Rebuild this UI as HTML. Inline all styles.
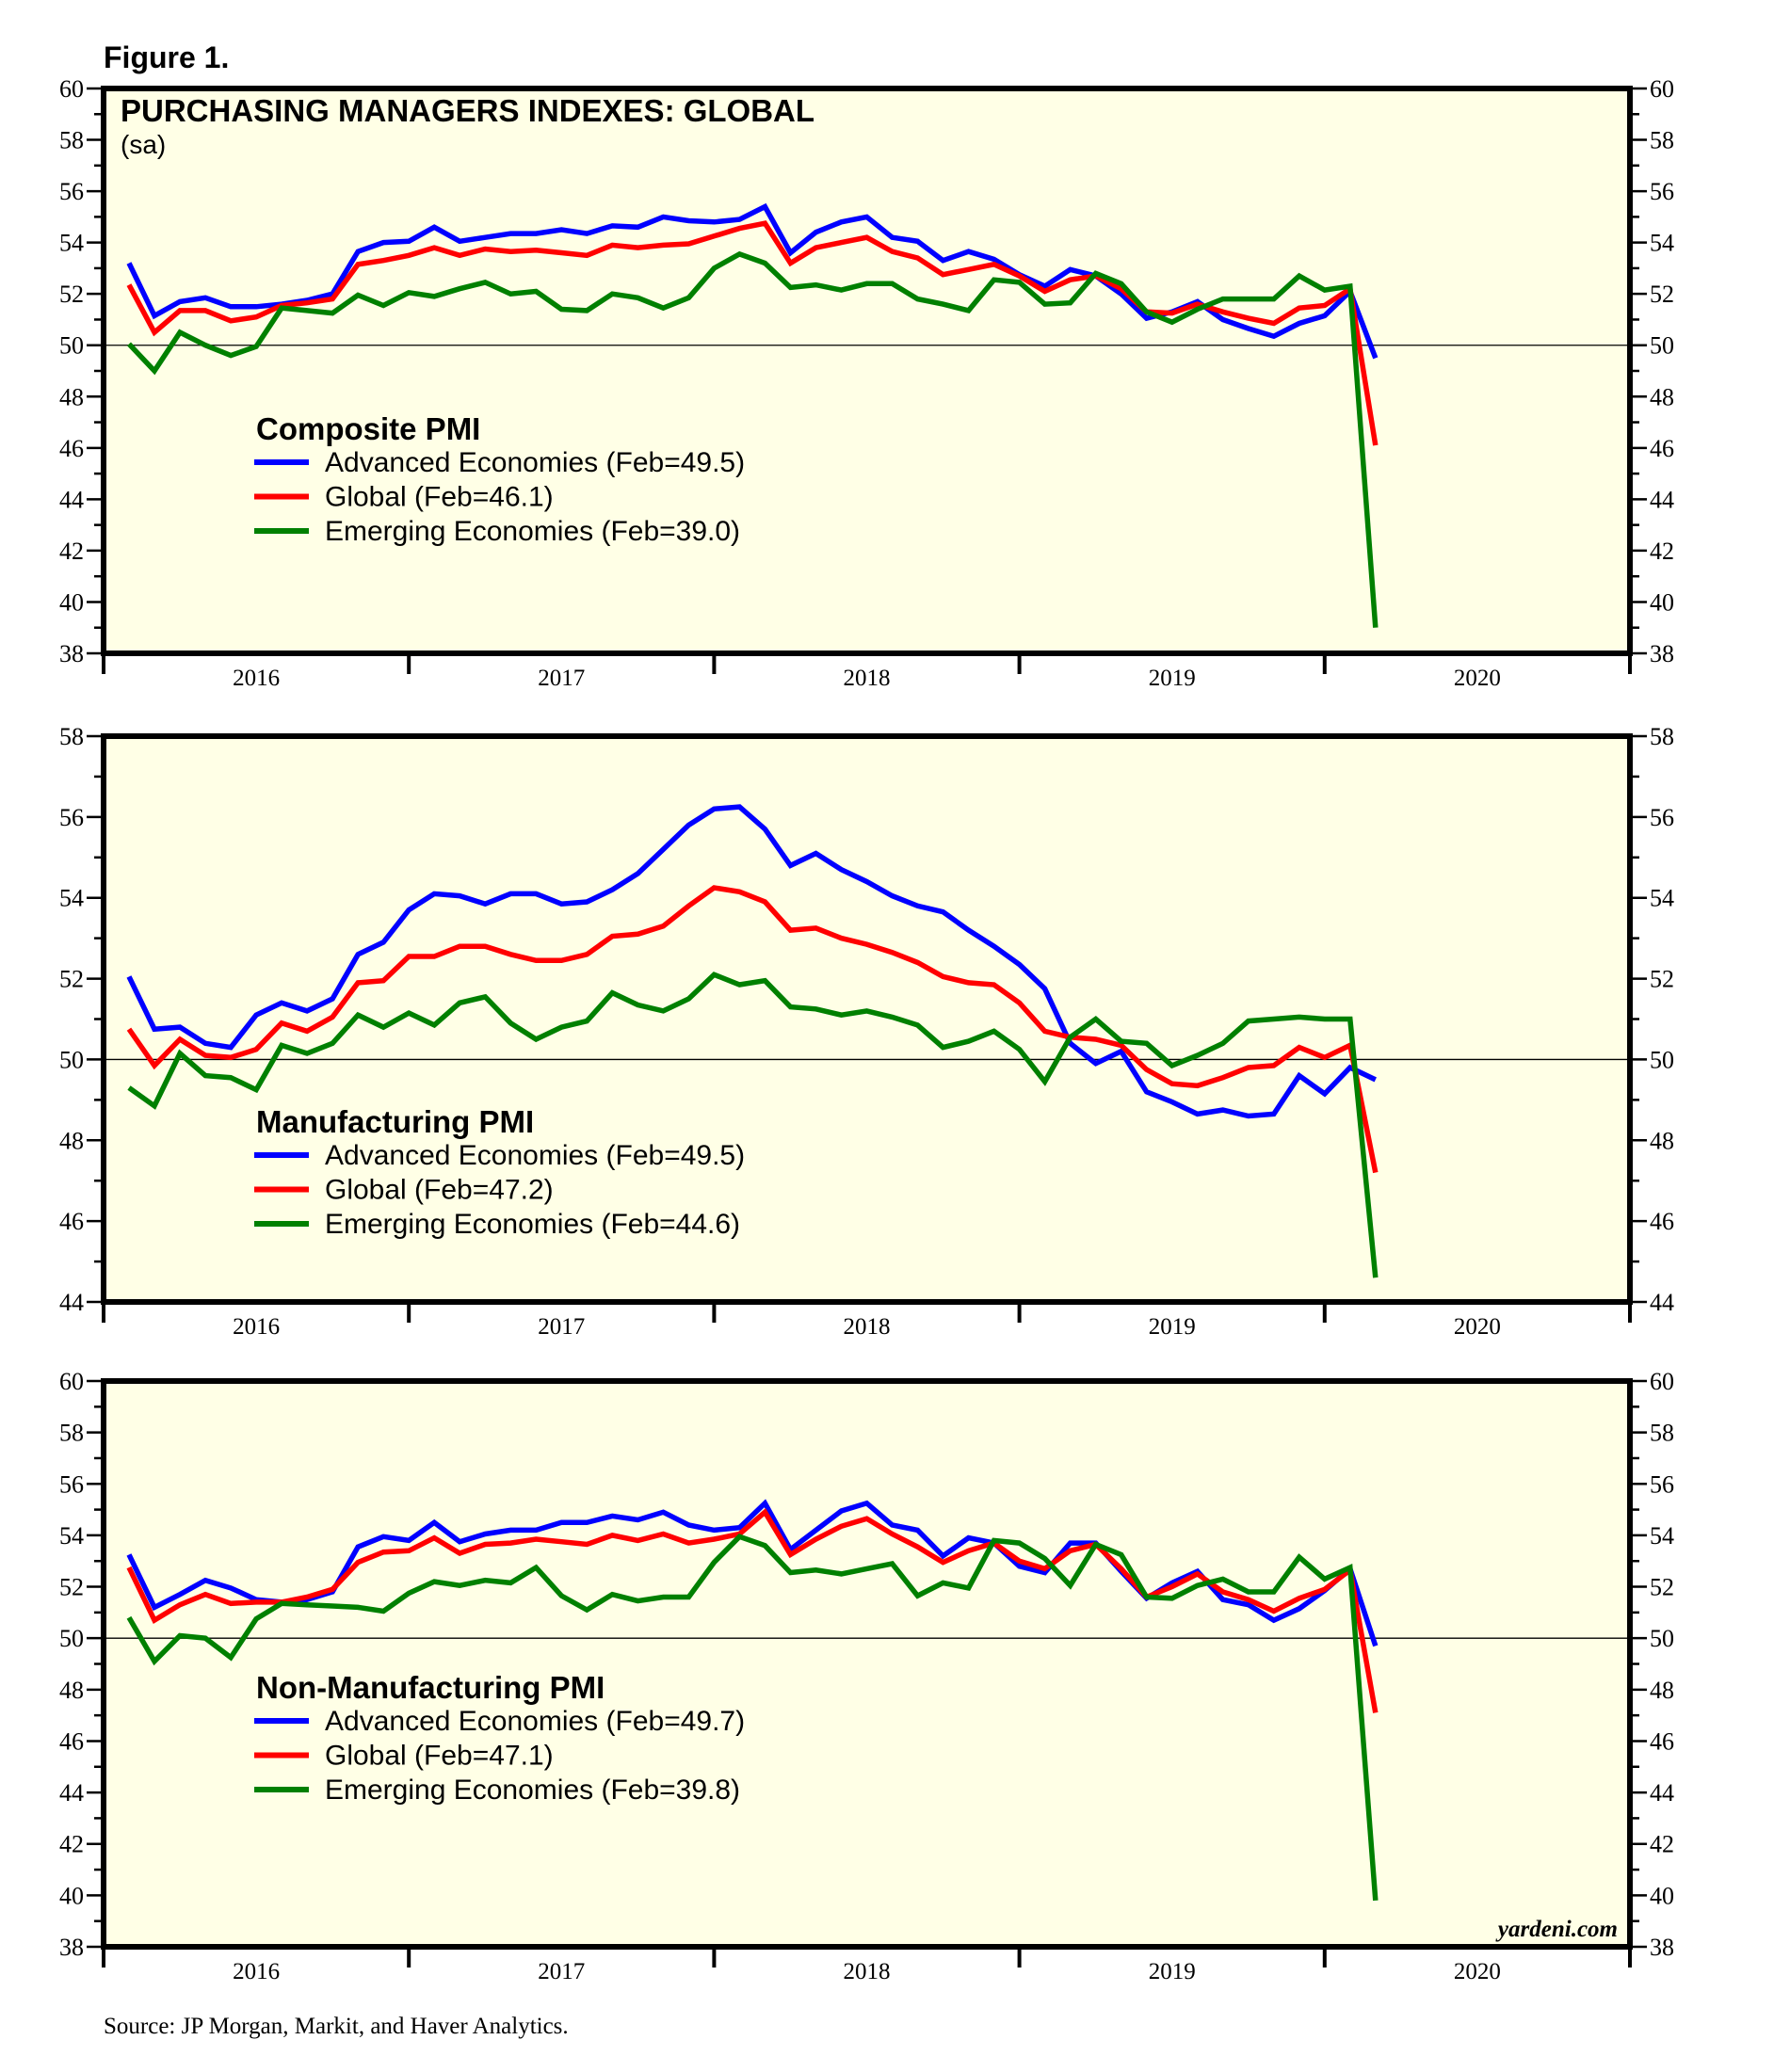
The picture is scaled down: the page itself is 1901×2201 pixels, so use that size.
<!DOCTYPE html>
<html><head><meta charset="utf-8"><style>
html,body{margin:0;padding:0;background:#fff;}
svg{display:block;}
</style></head><body>
<svg id="chart" width="1901" height="2201" viewBox="0 0 1901 2201" xmlns="http://www.w3.org/2000/svg">
<text x="110" y="72" font-family="Liberation Sans, sans-serif" font-weight="bold" font-size="32">Figure 1.</text>
<text x="110" y="2160" font-family="Liberation Serif, serif" font-size="25">Source: JP Morgan, Markit, and Haver Analytics.</text>
</svg>
<script>
const years = ["2016","2017","2018","2019","2020"];
const compAdv = [53.2,51.15,51.7,51.85,51.5,51.5,51.6,51.75,52.0,53.65,54.0,54.05,54.6,54.05,54.2,54.35,54.35,54.5,54.35,54.65,54.6,55.0,54.85,54.8,54.9,55.4,53.6,54.4,54.8,55.0,54.2,54.05,53.3,53.65,53.35,52.75,52.3,52.95,52.7,52.0,51.05,51.3,51.7,51.0,50.65,50.35,50.85,51.15,52.1,49.5];
const compGlb = [52.35,50.5,51.35,51.35,50.95,51.1,51.55,51.65,51.8,53.15,53.3,53.5,53.8,53.5,53.75,53.65,53.7,53.6,53.5,53.9,53.8,53.9,53.95,54.25,54.55,54.75,53.2,53.8,54.0,54.2,53.65,53.4,52.75,52.95,53.15,52.7,52.1,52.55,52.7,52.2,51.3,51.25,51.6,51.3,51.05,50.85,51.45,51.55,52.2,46.1];
const compEme = [50.05,49.0,50.5,50.0,49.6,49.95,51.45,51.35,51.25,51.95,51.55,52.05,51.9,52.2,52.45,52.0,52.1,51.4,51.35,52.0,51.85,51.45,51.85,53.0,53.55,53.2,52.25,52.35,52.15,52.4,52.4,51.8,51.6,51.35,52.55,52.45,51.6,51.65,52.8,52.4,51.3,50.9,51.4,51.8,51.8,51.8,52.7,52.15,52.3,39.0];
const mfgAdv = [52.05,50.75,50.8,50.4,50.3,51.1,51.4,51.2,51.5,52.6,52.9,53.7,54.1,54.05,53.85,54.1,54.1,53.85,53.9,54.2,54.6,55.2,55.8,56.2,56.25,55.7,54.8,55.1,54.7,54.4,54.05,53.8,53.65,53.2,52.8,52.35,51.75,50.4,49.9,50.2,49.2,48.95,48.65,48.75,48.6,48.65,49.6,49.15,49.8,49.5];
const mfgGlb = [50.75,49.85,50.5,50.1,50.05,50.25,50.9,50.7,51.05,51.9,51.95,52.55,52.55,52.8,52.8,52.6,52.45,52.45,52.6,53.05,53.1,53.3,53.8,54.25,54.15,53.9,53.2,53.25,53.0,52.85,52.65,52.4,52.05,51.9,51.85,51.4,50.7,50.55,50.5,50.35,49.75,49.4,49.35,49.55,49.8,49.85,50.3,50.05,50.35,47.2];
const mfgEme = [49.3,48.85,50.15,49.6,49.55,49.25,50.35,50.15,50.4,51.1,50.8,51.15,50.85,51.4,51.55,50.9,50.5,50.8,50.95,51.65,51.35,51.2,51.5,52.1,51.85,51.95,51.3,51.25,51.1,51.2,51.05,50.85,50.3,50.45,50.7,50.25,49.45,50.55,51.0,50.45,50.4,49.85,50.1,50.4,50.95,51.0,51.05,51.0,51.0,44.6];
const nonAdv = [53.25,51.2,51.7,52.25,51.95,51.5,51.4,51.5,51.8,53.55,53.95,53.8,54.5,53.75,54.05,54.2,54.2,54.5,54.5,54.75,54.6,54.9,54.4,54.2,54.3,55.25,53.45,54.2,54.95,55.25,54.4,54.2,53.2,53.9,53.7,52.8,52.55,53.7,53.7,52.6,51.55,52.15,52.6,51.5,51.3,50.7,51.15,51.85,52.7,49.7];
const nonGlb = [52.75,50.7,51.3,51.7,51.35,51.4,51.4,51.6,51.9,52.95,53.35,53.4,53.9,53.3,53.65,53.7,53.85,53.75,53.65,54.0,53.8,54.05,53.7,53.85,54.05,54.9,53.25,53.85,54.35,54.65,54.05,53.55,52.95,53.4,53.7,53.0,52.7,53.4,53.65,52.7,51.6,52.0,52.5,51.8,51.5,51.05,51.55,51.9,52.65,47.1];
const nonEme = [50.8,49.1,50.1,50.0,49.25,50.75,51.35,51.3,51.25,51.2,51.05,51.75,52.2,52.05,52.25,52.15,52.75,51.65,51.1,51.7,51.45,51.6,51.6,52.95,53.95,53.6,52.55,52.65,52.5,52.7,52.9,51.65,52.15,51.95,53.8,53.7,53.1,52.05,53.65,53.25,51.6,51.55,52.05,52.3,51.8,51.8,53.15,52.3,52.75,39.8];
const legendAdv = ["Advanced Economies (Feb=49.5)","Advanced Economies (Feb=49.5)","Advanced Economies (Feb=49.7)"];
const legendGlb = ["Global (Feb=46.1)","Global (Feb=47.2)","Global (Feb=47.1)"];
const legendEme = ["Emerging Economies (Feb=39.0)","Emerging Economies (Feb=44.6)","Emerging Economies (Feb=39.8)"];
const panelTitles = ["Composite PMI","Manufacturing PMI","Non-Manufacturing PMI"];

const svg = document.getElementById('chart');
const NS = 'http://www.w3.org/2000/svg';
function mk(tag, attrs, parent){ const e=document.createElementNS(NS,tag); for(const k in attrs) e.setAttribute(k,attrs[k]); (parent||svg).appendChild(e); return e; }

const L=110, R=1731, MONTHS=60;
const panels = [
 {top:94,bottom:694,min:38,max:60,step:2,data:[compAdv,compGlb,compEme],leg:467,name:'composite'},
 {top:782,bottom:1383,min:44,max:58,step:2,data:[mfgAdv,mfgGlb,mfgEme],leg:1203,name:'manufacturing'},
 {top:1467,bottom:2068,min:38,max:60,step:2,data:[nonAdv,nonGlb,nonEme],leg:1804,name:'non-manufacturing'}
];
const colors=['#0000ff','#ff0000','#008000'];
const xOf = i => L + (i+1)*(R-L)/MONTHS;

panels.forEach((p,pi)=>{
  const yOf = v => p.bottom - (v-p.min)/(p.max-p.min)*(p.bottom-p.top);
  const g = mk('g',{});
  
  
  const bg = mk('rect',{x:L,y:p.top,width:R-L,height:p.bottom-p.top,fill:'#ffffe6'},g);
  
  
  const ref = mk('line',{x1:L,x2:R,y1:yOf(50),y2:yOf(50),stroke:'#000','stroke-width':1.3},g);
  
  
  for(let v=p.min; v<=p.max; v+=1){
    const y=yOf(v), major=(v-p.min)%p.step===0;
    const len = major?18:10;
    mk('line',{x1:L-len,x2:L,y1:y,y2:y,stroke:'#000','stroke-width':2.5},g);
    mk('line',{x1:R,x2:R+len,y1:y,y2:y,stroke:'#000','stroke-width':2.5},g);
    if(major){
      const tl = mk('text',{x:L-21,y:y+9,'text-anchor':'end','font-family':'Liberation Serif, serif','font-size':26},g);
      tl.textContent=v;
      
      
      const tr = mk('text',{x:R+21,y:y+9,'font-family':'Liberation Serif, serif','font-size':26},g);
      tr.textContent=v;
      
      
    }
  }
  for(let k=0;k<=years.length;k++){
    const x=L+k*12*(R-L)/MONTHS;
    mk('line',{x1:x,x2:x,y1:p.bottom,y2:p.bottom+22,stroke:'#000','stroke-width':4},g);
    if(k<years.length){
      const t=mk('text',{x:x+6*(R-L)/MONTHS,y:p.bottom+34,'text-anchor':'middle','font-family':'Liberation Serif, serif','font-size':25},g);
      t.textContent=years[k];
      
      
    }
  }
  p.data.forEach((arr,si)=>{
    const pts = arr.map((v,i)=>xOf(i).toFixed(1)+','+yOf(v).toFixed(1)).join(' ');
    const pl = mk('polyline',{points:pts,fill:'none',stroke:colors[si],'stroke-width':5.5,'stroke-linejoin':'miter'},g);
    
    
  });
  const fr = mk('rect',{x:L,y:p.top,width:R-L,height:p.bottom-p.top,fill:'none',stroke:'#000','stroke-width':6},g);
  
  
  const lt = mk('text',{x:272,y:p.leg,'font-family':'Liberation Sans, sans-serif','font-weight':'bold','font-size':33},g);
  lt.textContent=panelTitles[pi];
  
  
  const labels=[legendAdv[pi],legendGlb[pi],legendEme[pi]];
  labels.forEach((lab,si)=>{
    const by = p.leg + 34 + si*36.5;
    mk('line',{x1:270,x2:328,y1:by-10,y2:by-10,stroke:colors[si],'stroke-width':6},g);
    const t=mk('text',{x:345,y:by,'font-family':'Liberation Sans, sans-serif','font-size':30},g);
    t.textContent=lab;
    
    
  });
  if(pi===0){
    const t1=mk('text',{x:128,y:129,'font-family':'Liberation Sans, sans-serif','font-weight':'bold','font-size':33},g);
    t1.textContent='PURCHASING MANAGERS INDEXES: GLOBAL';
    
    
    const t2=mk('text',{x:128,y:163,'font-family':'Liberation Sans, sans-serif','font-size':28},g);
    t2.textContent='(sa)';
    
    
  }
  if(pi===2){
    const w=mk('text',{x:1718,y:2057,'text-anchor':'end','font-family':'Liberation Serif, serif','font-weight':'bold','font-style':'italic','font-size':25},g);
    w.textContent='yardeni.com';
    
    
  }
});
</script>
</body></html>
